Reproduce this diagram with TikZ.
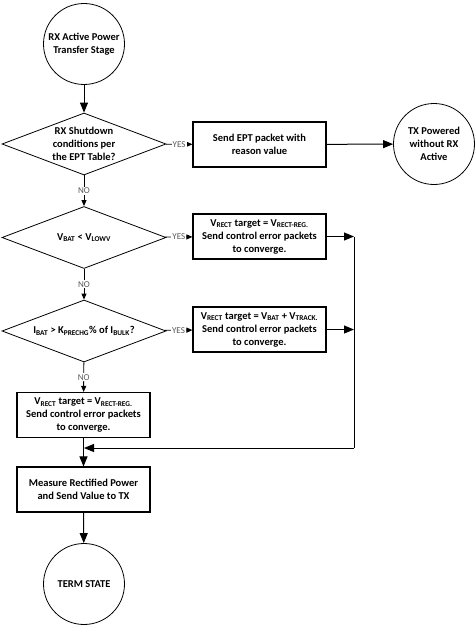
\documentclass[tikz,border=0pt]{standalone}
\usepackage{fontspec}
\setmainfont{Carlito}
\usepackage{tikz}
\usetikzlibrary{calc,positioning,arrows.meta,shapes}

\begin{document}
\begin{tikzpicture}[x=1pt,y=-1pt]
\tikzstyle{state}=[circle, draw, line width=0.8pt, minimum size=81pt, inner sep=1pt, align=center, font=\bfseries\fontsize{10.5}{13}\selectfont]
\tikzstyle{decision}=[diamond, draw, line width=0.8pt, aspect=2.65, minimum width=164pt, minimum height=62pt, inner sep=0pt, align=center, font=\bfseries\fontsize{10.5}{13}\selectfont]
\tikzstyle{process}=[rectangle, draw, line width=1.1pt, minimum width=133pt, minimum height=45pt, inner sep=2pt, align=center, font=\bfseries\fontsize{10.5}{13}\selectfont]
\tikzstyle{arr}=[line width=1pt, -{Triangle[length=10pt,width=8pt]}]
\tikzstyle{lblarr}=[line width=0.9pt, -{Triangle[length=6pt,width=5pt]}]
\tikzstyle{lbl}=[fill=white, inner sep=1pt, text=black!65, font=\fontsize{9}{10}\selectfont]

\useasboundingbox (0,0) rectangle (476,626);

\node[state] (start) at (84,44) {RX Active Power\\Transfer Stage};
\node[decision] (shutdown) at (84,144) {RX Shutdown\\conditions per\\the EPT Table?};
\node[process] (ept) at (259.5,144.5) {Send EPT packet with\\reason value};
\node[state] (txon) at (434,144) {TX Powered\\without RX\\Active};
\node[decision] (lowv) at (84,237.5) {V\textsubscript{BAT} < V\textsubscript{LOWV}};
\node[process] (vreg) at (259.5,236.5) {V\textsubscript{RECT} target = V\textsubscript{RECT-REG.}\\Send control error packets\\to converge.};
\node[decision] (prechg) at (84,331) {I\textsubscript{BAT} > K\textsubscript{PRECHG}\% of I\textsubscript{BULK}?};
\node[process] (vtrack) at (259.5,329.5) {V\textsubscript{RECT} target = V\textsubscript{BAT} + V\textsubscript{TRACK.}\\Send control error packets\\to converge.};
\node[process] (vregb) at (83.5,415) {V\textsubscript{RECT} target = V\textsubscript{RECT-REG.}\\Send control error packets\\to converge.};
\node[process] (measure) at (83.5,489.5) {Measure Rectified Power\\and Send Value to TX};
\node[state] (term) at (84,584) {TERM STATE};

\coordinate (busA) at (354,236.5);
\coordinate (busB) at (354,448);
\coordinate (merge) at (84,448);

\draw[arr] (start) -- (shutdown);
\draw[lblarr] (shutdown) -- node[lbl]{YES} (ept);
\draw[arr] (ept) -- (txon);
\draw[lblarr] (shutdown) -- node[lbl]{NO} (lowv);
\draw[lblarr] (lowv) -- node[lbl]{YES} (vreg);
\draw[lblarr] (lowv) -- node[lbl]{NO} (prechg);
\draw[lblarr] (prechg) -- node[lbl]{YES} (vtrack);
\draw[lblarr] (prechg) -- node[lbl]{NO} (vregb);
\draw[arr] (vreg) -- (busA);
\draw[arr] (vtrack) -- (vtrack.east -| busA);
\draw[line width=1pt] (busA) -- (busB);
\draw[arr] (busB) -- (merge);
\draw[arr] (vregb) -- (measure);
\draw[arr] (measure) -- (term);
\end{tikzpicture}
\end{document}
